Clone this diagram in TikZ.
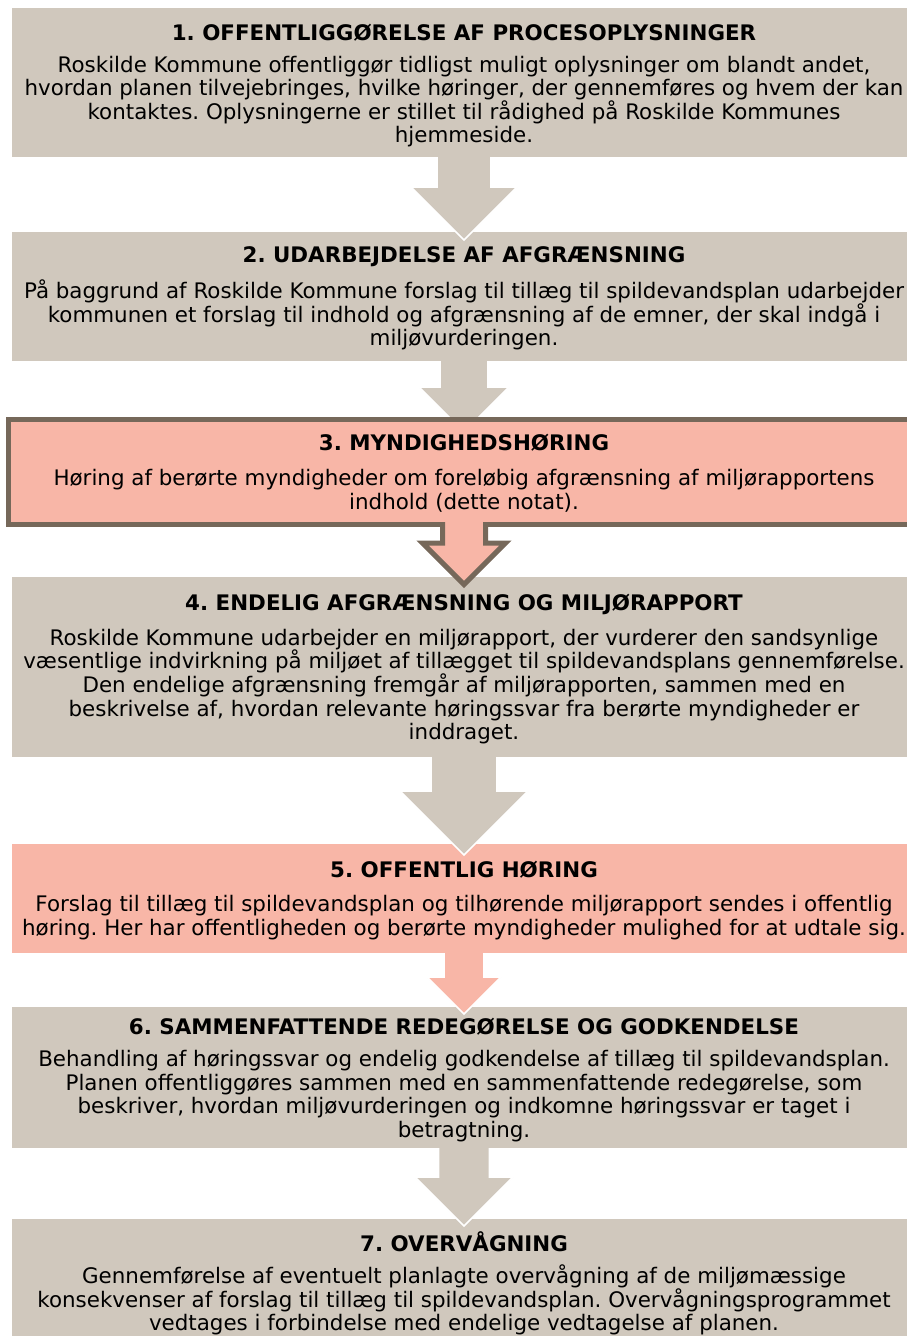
\documentclass[tikz,border=0pt]{standalone}
\usepackage{fontspec}
\setmainfont{DejaVu Sans}
\usetikzlibrary{calc}
\definecolor{tanfill}{HTML}{D0C8BD}
\definecolor{pinkfill}{HTML}{F8B6A7}
\definecolor{darkedge}{HTML}{76685A}
\newcommand{\flowarrow}[7]{% #1 fill, #2 outline style, #3 start, #4 shaft half, #5 shaft length, #6 head half, #7 outline start offset
  \fill[#1] ($(#3)+(-#4,-2.5)$) -- ($(#3)+(-#4,#5)$) -- ($(#3)+(-#6,#5)$) -- ($(#3)+(0,#5+#6)$)
     -- ($(#3)+(#6,#5)$) -- ($(#3)+(#4,#5)$) -- ($(#3)+(#4,-2.5)$) -- cycle;
  \draw[#2] ($(#3)+(-#4,#7)$) -- ($(#3)+(-#4,#5)$) -- ($(#3)+(-#6,#5)$) -- ($(#3)+(0,#5+#6)$)
     -- ($(#3)+(#6,#5)$) -- ($(#3)+(#4,#5)$) -- ($(#3)+(#4,#7)$);
}
\begin{document}
\frenchspacing
\begin{tikzpicture}[x=1pt,y=-1pt,
  tanbox/.style={rectangle, fill=tanfill, inner sep=0pt, outer sep=0pt, anchor=north west, minimum width=904pt},
  pinkbox/.style={rectangle, fill=pinkfill, inner sep=0pt, outer sep=0pt, anchor=north west, minimum width=904pt},
  ttl/.style={font=\fontsize{21.4}{23.5}\selectfont\bfseries, inner sep=0pt},
  bodytxt/.style={font=\fontsize{21.4}{23.6}\selectfont, align=center, inner sep=0pt},
  whiteline/.style={draw=white, line width=1.6pt, line join=miter},
  darkline/.style={draw=darkedge, line width=5pt, line join=miter}
]
\useasboundingbox (0,0) rectangle (907,1336);
\clip (0,0) rectangle (907,1336);

% Box 1
\node[tanbox, minimum height=149pt] (b1) at (12,8) {};
\node[ttl] (t1) at (464,33) {1. OFFENTLIGGØRELSE AF PROCESOPLYSNINGER};
\node[bodytxt] (x1) at (464,101.5) {Roskilde Kommune offentliggør tidligst muligt oplysninger om blandt andet,\\hvordan planen tilvejebringes, hvilke høringer, der gennemføres og hvem der kan\\kontaktes. Oplysningerne er stillet til rådighed på Roskilde Kommunes\\hjemmeside.};

% Box 2
\node[tanbox, minimum height=129pt] (b2) at (12,232) {};
\node[ttl] (t2) at (464,257) {2. UDARBEJDELSE AF AFGRÆNSNING};
\node[bodytxt] (x2) at (464,315) {På baggrund af Roskilde Kommune forslag til tillæg til spildevandsplan udarbejder\\kommunen et forslag til indhold og afgrænsning af de emner, der skal indgå i\\miljøvurderingen.};

\flowarrow{tanfill}{whiteline}{b1.south}{27}{30}{53}{0}
\flowarrow{tanfill}{whiteline}{b2.south}{24}{26}{45}{0}

% Box 3
\node[rectangle, fill=pinkfill, draw=darkedge, line width=5pt, inner sep=0pt, outer sep=0pt, anchor=north west,
      minimum width=911pt, minimum height=105pt] (b3) at (8.5,419.5) {};
\node[ttl] (t3) at (464,443) {3. MYNDIGHEDSHØRING};
\node[bodytxt] (x3) at (464,491) {Høring af berørte myndigheder om foreløbig afgrænsning af miljørapportens\\indhold (dette notat).};

% Box 4
\node[tanbox, minimum height=180pt] (b4) at (12,577) {};
\node[ttl] (t4) at (464,604) {4. ENDELIG AFGRÆNSNING OG MILJØRAPPORT};
\node[bodytxt] (x4) at (464,686.5) {Roskilde Kommune udarbejder en miljørapport, der vurderer den sandsynlige\\væsentlige indvirkning på miljøet af tillægget til spildevandsplans gennemførelse.\\Den endelige afgrænsning fremgår af miljørapporten, sammen med en\\beskrivelse af, hvordan relevante høringssvar fra berørte myndigheder er\\inddraget.};

% Box 5
\node[pinkbox, minimum height=109pt] (b5) at (12,844) {};
\node[ttl] (t5) at (464,870) {5. OFFENTLIG HØRING};
\node[bodytxt] (x5) at (464,917.5) {Forslag til tillæg til spildevandsplan og tilhørende miljørapport sendes i offentlig\\høring. Her har offentligheden og berørte myndigheder mulighed for at udtale sig.};

% Box 6
\node[tanbox, minimum height=141pt] (b6) at (12,1007) {};
\node[ttl] (t6) at (464,1027) {6. SAMMENFATTENDE REDEGØRELSE OG GODKENDELSE};
\node[bodytxt] (x6) at (464,1096) {Behandling af høringssvar og endelig godkendelse af tillæg til spildevandsplan.\\Planen offentliggøres sammen med en sammenfattende redegørelse, som\\beskriver, hvordan miljøvurderingen og indkomne høringssvar er taget i\\betragtning.};

% Box 7
\node[tanbox, minimum height=130pt] (b7) at (12,1219) {};
\node[ttl] (t7) at (464,1242) {7. OVERVÅGNING};
\node[bodytxt] (x7) at (464,1300) {Gennemførelse af eventuelt planlagte overvågning af de miljømæssige\\konsekvenser af forslag til tillæg til spildevandsplan. Overvågningsprogrammet\\vedtages i forbindelse med endelige vedtagelse af planen.};

% Arrows
\flowarrow{pinkfill}{darkline}{b3.south}{21.5}{18.5}{41.5}{-2.5}
\flowarrow{tanfill}{whiteline}{b4.south}{33}{34}{64}{0}
\flowarrow{pinkfill}{whiteline}{b5.south}{20}{24}{37}{0}
\flowarrow{tanfill}{whiteline}{b6.south}{25.5}{29}{49}{0}
\end{tikzpicture}
\end{document}
